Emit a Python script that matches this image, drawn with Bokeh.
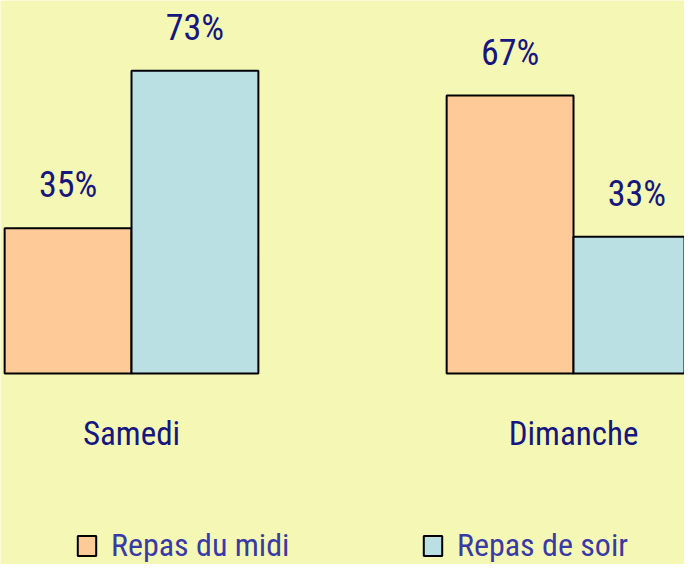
import subprocess
from bokeh.plotting import figure
from bokeh.models import ColumnDataSource, Range1d, Legend, LegendItem
from bokeh.core.properties import value
from bokeh.embed import file_html
from bokeh.resources import INLINE

days = ["Samedi", "Dimanche"]
series = ["Repas du midi", "Repas de soir"]
midi = [35, 67]
soir = [73, 33]
colors = ["#FECB98", "#BBE0E3"]

BG = "#F5F8B4"
NAVY = "#16167E"
LEG = "#3A3AA6"
BAR_W = 0.287


def pick_font(cands, default="Roboto"):
    try:
        out = subprocess.run(["fc-list", ":", "family"], capture_output=True,
                             text=True, timeout=10).stdout
    except Exception:
        out = ""
    for c in cands:
        if c in out:
            return c
    return default


FONT = pick_font(["Roboto Condensed", "Liberation Sans Narrow",
                  "DejaVu Sans Condensed", "Noto Sans Condensed"])

p = figure(width=684, height=564, output_backend="svg", toolbar_location=None,
           x_range=Range1d(-0.2964, 1.2511), y_range=Range1d(-46.0, 89.9),
           min_border=0, background_fill_color=BG, border_fill_color=BG)
p.axis.visible = False
p.grid.visible = False
p.outline_line_color = None

idx = list(range(len(days)))
renderers = []
for k, (vals, col) in enumerate(zip([midi, soir], colors)):
    off = (k - 0.5) * BAR_W
    src = ColumnDataSource(dict(x=[i + off for i in idx], top=vals,
                                lab=[f"{v}%" for v in vals]))
    r = p.vbar(x="x", top="top", bottom=0, width=BAR_W, source=src,
               fill_color=col, line_color="black", line_width=2)
    renderers.append(r)
    p.text(x="x", y="top", text="lab", source=src, y_offset=-43,
           text_align="center", text_baseline="alphabetic",
           text_font=value(FONT), text_font_size="36px", text_color=NAVY)

dsrc = ColumnDataSource(dict(x=idx, y=[0] * len(days), t=days))
p.text(x="x", y="y", text="t", source=dsrc, y_offset=60,
       text_align="center", text_baseline="alphabetic",
       text_font=value(FONT), text_font_size="33px", text_color=NAVY)

for r, name, loc in zip(renderers, series, [(75, 0), (421, 0)]):
    lg = Legend(items=[LegendItem(label=name, renderers=[r])], location=loc,
                glyph_width=23, glyph_height=25, label_standoff=13,
                padding=0, margin=0, spacing=0,
                background_fill_alpha=0, border_line_alpha=0,
                label_text_font=FONT, label_text_font_size="32px",
                label_text_color=LEG)
    p.add_layout(lg, "center")

open("out.html", "w").write(file_html(p, INLINE))
